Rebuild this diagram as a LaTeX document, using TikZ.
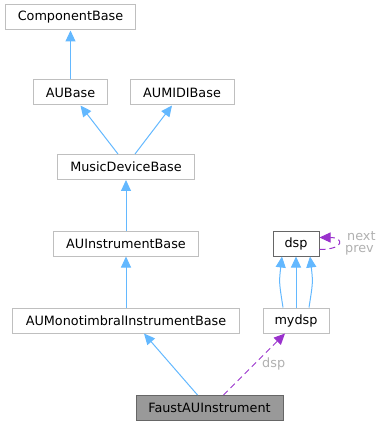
\documentclass[tikz,border=0pt]{standalone}
\usepackage{fontspec}
\setmainfont{DejaVu Sans}
\usetikzlibrary{arrows.meta,calc}
\definecolor{edgeblue}{HTML}{63B8FF}
\definecolor{edgepurple}{HTML}{9A32CD}
\definecolor{boxgray}{HTML}{BFBFBF}
\definecolor{darkbox}{HTML}{666666}
\definecolor{labelgray}{HTML}{B0B0B0}
\tikzset{
  cls/.style={draw=boxgray, line width=1pt, fill=white, inner sep=0pt,
    minimum height=25pt, font=\fontsize{12.8}{14}\selectfont},
  clsdark/.style={cls, draw=darkbox},
  clsmain/.style={cls, draw=darkbox, fill=black!40},
  inherit/.style={draw=edgeblue, line width=1pt,
    -{Triangle[length=11pt, width=10pt, fill=edgeblue]}},
  uses/.style={draw=edgepurple, line width=1pt, dash pattern=on 6pt off 4pt,
    -{Triangle[length=11pt, width=10pt, fill=edgepurple]}},
  elabel/.style={text=labelgray, font=\fontsize{12.8}{14}\selectfont, inner sep=0pt}
}
\begin{document}
\begin{tikzpicture}[x=1pt, y=-1pt]
\useasboundingbox (0,0) rectangle (382,427);
% class boxes
\node[cls, minimum width=130pt] (cb)   at (70.5,17.5)   {ComponentBase};
\node[cls, minimum width=74pt]  (aub)  at (70.5,92.5)   {AUBase};
\node[cls, minimum width=104pt] (aum)  at (182,92.5)  {AUMIDIBase};
\node[cls, minimum width=137pt] (mdb)  at (126,167) {MusicDeviceBase};
\node[cls, minimum width=145pt] (aib)  at (126,243.5) {AUInstrumentBase};
\node[cls, minimum width=227pt] (amb)  at (126,320.5) {AUMonotimbralInstrumentBase};
\node[clsmain, minimum width=147pt] (fai) at (209.5,408) {FaustAUInstrument};
\node[clsdark, minimum width=46pt] (dsp)  at (296,243.5) {dsp};
\node[cls, minimum width=66pt]  (my)   at (296,320.5) {mydsp};
% inheritance edges
\draw[inherit] (aub.north) -- (cb.south);
\draw[inherit] ([xshift=-8pt]mdb.north) -- ([xshift=10pt]aub.south);
\draw[inherit] ([xshift=9pt]mdb.north) -- ([xshift=-10pt]aum.south);
\draw[inherit] (aib.north) -- (mdb.south);
\draw[inherit] (amb.north) -- (aib.south);
\draw[inherit] ([xshift=-12pt]fai.north) -- ([xshift=18pt]amb.south);
\draw[inherit] ([xshift=-13pt]my.north) .. controls ([xshift=-17pt]$(my.north)!0.5!(dsp.south)$) .. ([xshift=-14pt]dsp.south);
\draw[inherit] (my.north) -- (dsp.south);
\draw[inherit] ([xshift=13pt]my.north) .. controls ([xshift=17pt]$(my.north)!0.5!(dsp.south)$) .. ([xshift=14pt]dsp.south);
% member edges
\draw[uses] ([xshift=14pt]fai.north) -- ([xshift=-11pt]my.south);
\node[elabel, anchor=west] (ldsp) at (262,364) {dsp};
\draw[uses] ([yshift=-6pt]dsp.east) .. controls +(25pt,0pt) and +(25pt,0pt) .. ([yshift=6pt]dsp.east);
\node[elabel, anchor=west] (lnext) at (347,236) {next};
\node[elabel, anchor=west] (lprev) at (345,250) {prev};
\end{tikzpicture}
\end{document}
